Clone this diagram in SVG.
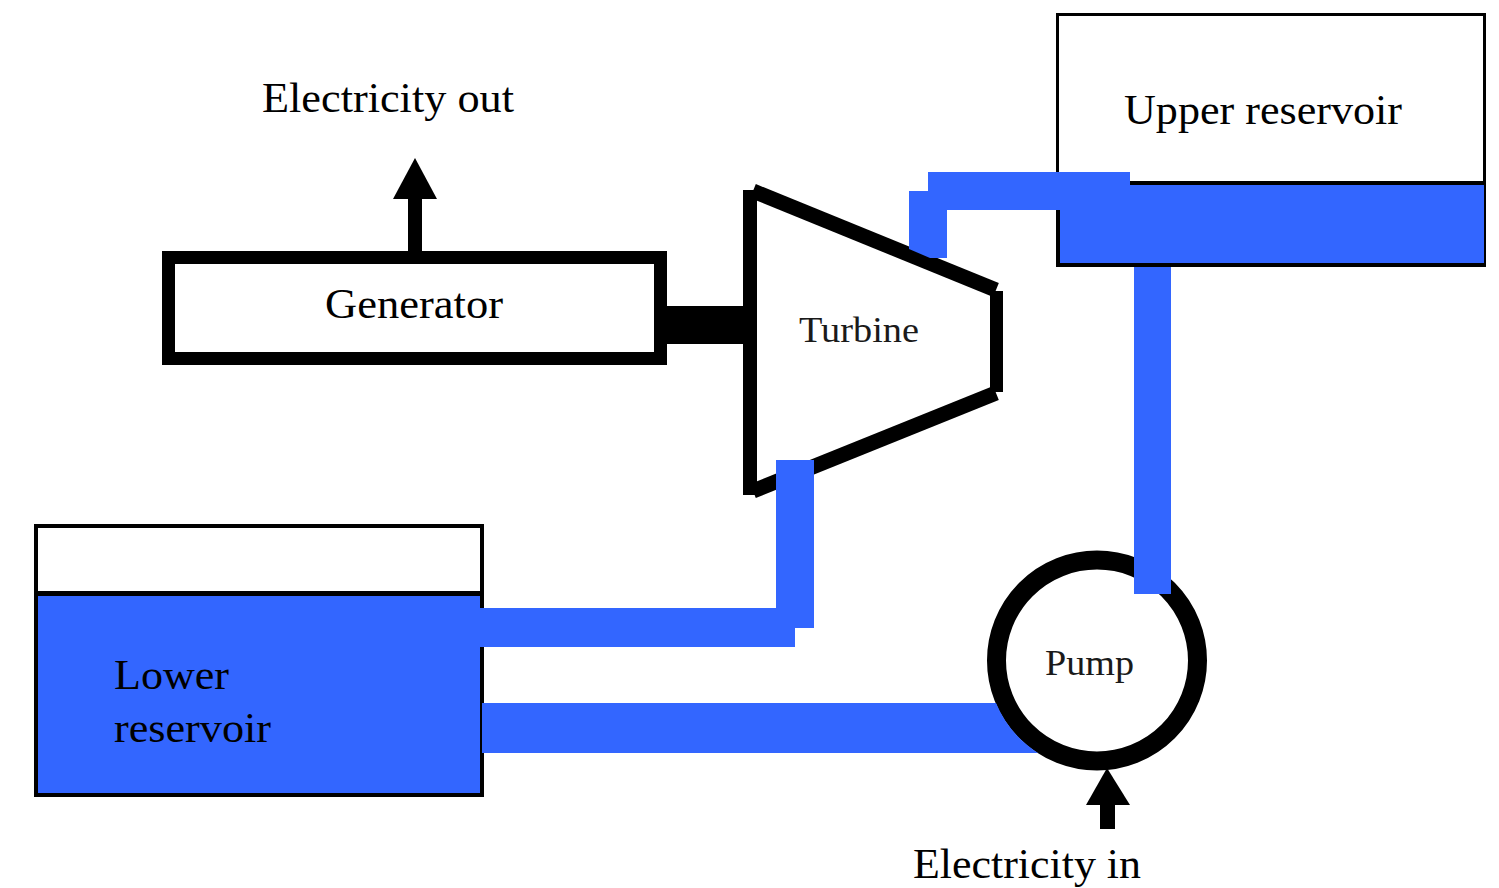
<svg xmlns="http://www.w3.org/2000/svg" width="1499" height="888" viewBox="0 0 1499 888">
<style>
text{font-family:"Liberation Serif","Times New Roman",serif;fill:#000;font-size:43px}
text.s{font-size:36px;fill:#1a1a1a}
.pipe{fill:#3366ff}
.k{fill:#000}
.t{stroke:#000;stroke-width:15;fill:none}
</style>
<rect width="1499" height="888" fill="#fff"/>
<g id="upper-reservoir">
<rect x="1057.500" y="14.500" width="427" height="251" fill="#fff" stroke="#000" stroke-width="3"/>
<rect x="1060" y="184" width="424" height="80" class="pipe"/>
<rect x="1058" y="181" width="426" height="4" class="k"/>
<rect x="1056" y="263" width="429" height="4" class="k"/>
<rect x="1056" y="184" width="4" height="82" class="k"/>
<text x="1124" y="124" textLength="278" lengthAdjust="spacingAndGlyphs">Upper reservoir</text>
</g>
<g id="lower-reservoir">
<rect x="36" y="526" width="446" height="269" fill="#fff" stroke="#000" stroke-width="4"/>
<rect x="38" y="594" width="442" height="199" class="pipe"/>
<rect x="36" y="591" width="446" height="5" class="k"/>
<text x="114" y="689" textLength="115" lengthAdjust="spacingAndGlyphs">Lower</text>
<text x="114" y="742" textLength="157" lengthAdjust="spacingAndGlyphs">reservoir</text>
</g>
<g id="generator">
<rect x="168.500" y="257.500" width="492" height="101" fill="#fff" stroke="#000" stroke-width="13"/>
<text x="325" y="318" textLength="178" lengthAdjust="spacingAndGlyphs">Generator</text>
</g>
<g id="turbine">
<path d="M750 190L996 292V392L750 492Z" fill="#fff"/>
<path class="t" d="M753 191L996 290"/>
<path class="t" d="M753 491L996 393"/>
<path d="M743 190H757V495H743Z" class="k"/>
<path d="M990 291H1003V392H990Z" class="k"/>
<text class="s" x="799" y="342" textLength="120" lengthAdjust="spacingAndGlyphs">Turbine</text>
</g>
<g id="pump">
<circle cx="1097" cy="660.500" r="100.500" fill="#fff" stroke="#000" stroke-width="19"/>
<text class="s" x="1045" y="675" textLength="89" lengthAdjust="spacingAndGlyphs">Pump</text>
</g>
<g id="connectors">
<path class="pipe" d="M909 191H928V172H1130V210H947V258H930L909 249Z"/>
<path class="pipe" d="M1134 267H1171V594H1134Z"/>
<path class="pipe" d="M776 460H814V628H795V647H480V608H776Z"/>
<path class="pipe" d="M482 703H996A110 110 0 0 0 1038 753H482Z"/>
<rect class="k" x="666" y="306" width="78" height="38"/>
<rect class="k" x="408" y="198" width="14" height="54"/>
<polygon class="k" points="393,199 415,158 437,199"/>
<rect class="k" x="1100" y="804" width="15" height="25"/>
<polygon class="k" points="1086,805 1107,768 1130,805"/>
</g>
<g id="labels">
<text x="262" y="112" textLength="252" lengthAdjust="spacingAndGlyphs">Electricity out</text>
<text x="913" y="878" textLength="228" lengthAdjust="spacingAndGlyphs">Electricity in</text>
</g>
</svg>
